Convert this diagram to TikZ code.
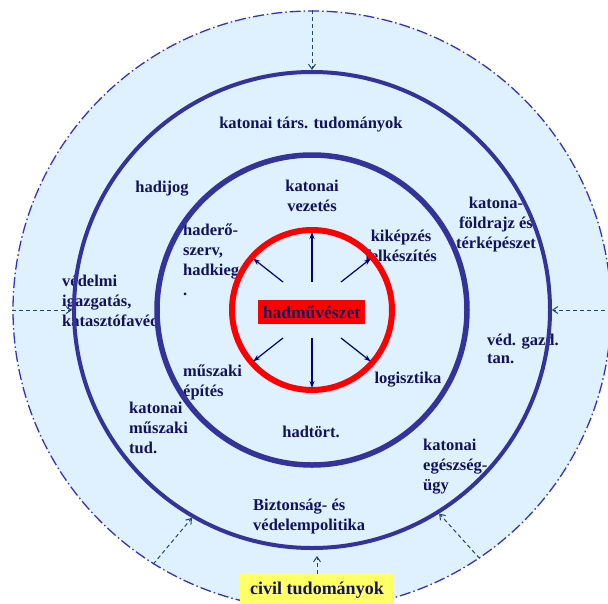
\documentclass[tikz,border=0pt]{standalone}
\usepackage{fontspec}
\setmainfont{Liberation Serif}
\usetikzlibrary{arrows.meta}
\definecolor{bgc}{RGB}{223,240,255}
\definecolor{ringc}{RGB}{51,51,153}
\definecolor{outerc}{RGB}{51,51,204}
\definecolor{txtc}{RGB}{18,18,95}
\definecolor{dashc}{RGB}{31,73,110}
\definecolor{arrc}{RGB}{0,0,128}
\definecolor{yelc}{RGB}{255,255,102}
\begin{document}
\begin{tikzpicture}[x=1pt,y=-1pt,
  lbl/.style={text=txtc,font=\fontsize{16.5}{20}\selectfont\bfseries,inner sep=0pt},
  dasharr/.style={dashc,line width=1pt,dash pattern=on 4pt off 3pt,-{Straight Barb[length=5pt,width=7pt]}},
  radarr/.style={arrc,line width=1.2pt,-{Stealth[length=7pt,width=5pt]}},
  ringnode/.style={circle,inner sep=0pt}
]
\useasboundingbox (0,0) rectangle (608,603);
\clip (0,0) rectangle (608,603);
\coordinate (c) at (312,310);
\node[ringnode, minimum size=598pt, fill=bgc, draw=outerc, line width=1.3pt,
      dash pattern=on 11pt off 3pt on 1.5pt off 3pt] (outer) at (c) {};
% labels
\node[lbl] (t1) at (311,125) {katonai társ. tudományok};
\node[lbl] (t2) at (162,189) {hadijog};
\node[lbl,align=center,anchor=north] (t3) at (312,180) {katonai\\vezetés};
\node[lbl,align=left,anchor=north west] (t4) at (183,224) {haderő-\\szerv,\\hadkieg\\.};
\node[lbl,align=center,anchor=north] (t5) at (401,230) {kiképzés\\felkészítés};
\node[lbl,align=left,anchor=north west] (t6) at (62,275) {védelmi\\igazgatás,\\katasztófavéd};
\node[lbl,align=center,anchor=north] (t7) at (496,197) {katona-\\földrajz és\\térképészet};
\node[lbl,align=left,anchor=north west,font=\fontsize{16.5}{18}\selectfont\bfseries] (t8) at (487,334) {véd. gazd.\\tan.};
\node[lbl,align=left,anchor=north west] (t9) at (183,365) {műszaki\\építés};
\node[lbl,align=left,anchor=north west] (t10) at (129,402) {katonai\\műszaki\\tud.};
\node[lbl] (t11) at (311,432) {hadtört.};
\node[lbl] (t12) at (408,380) {logisztika};
\node[lbl,align=left,anchor=north west] (t13) at (423,439) {katonai\\egészség-\\ügy};
\node[lbl,align=left,anchor=north west] (t14) at (253,499) {Biztonság- és\\védelempolitika};
% rings
\node[ringnode, minimum size=476pt, draw=ringc, line width=4pt] (mid) at (c) {};
\node[ringnode, minimum size=310pt, draw=ringc, line width=5.5pt] (inner) at (c) {};
\node[ringnode, minimum size=160pt, draw=red, line width=6pt] (core) at (c) {};
% centre
\node[fill=red, minimum width=107pt, minimum height=24pt, inner sep=0pt, text=txtc,
      font=\fontsize{17.5}{20}\selectfont\bfseries] (had) at (311.5,312) {hadművészet};
\node[minimum width=58pt, minimum height=56pt, inner sep=0pt, outer sep=0pt] (hub) at (c) {};
\draw[radarr, shorten >=5pt] (hub.north) -- (core.north);
\draw[radarr, shorten >=5pt] (hub.south) -- (core.south);
\draw[radarr, shorten >=5pt] (hub.north west) -- (core.139);
\draw[radarr, shorten >=5pt] (hub.north east) -- (core.41);
\draw[radarr, shorten >=5pt] (hub.south east) -- (core.-41);
\draw[radarr, shorten >=5pt] (hub.south west) -- (core.-139);
% civil
\node[fill=yelc, minimum width=154pt, minimum height=32pt, inner sep=0pt, text=txtc,
      font=\fontsize{18}{20}\selectfont\bfseries] (civil) at (317,590) {civil tudományok};
% dashed arrows
\draw[dasharr] (outer.north) -- (mid.north);
\draw[dasharr] (outer.west) -- (mid.west);
\draw[dasharr] (outer.east) -- (mid.east);
\draw[dasharr] (outer.-122) -- (mid.-120);
\draw[dasharr] (outer.-56) -- (mid.-58);
\draw[dasharr, shorten >=6pt] (civil.north) -- (civil.north |- mid.south);
\end{tikzpicture}
\end{document}
